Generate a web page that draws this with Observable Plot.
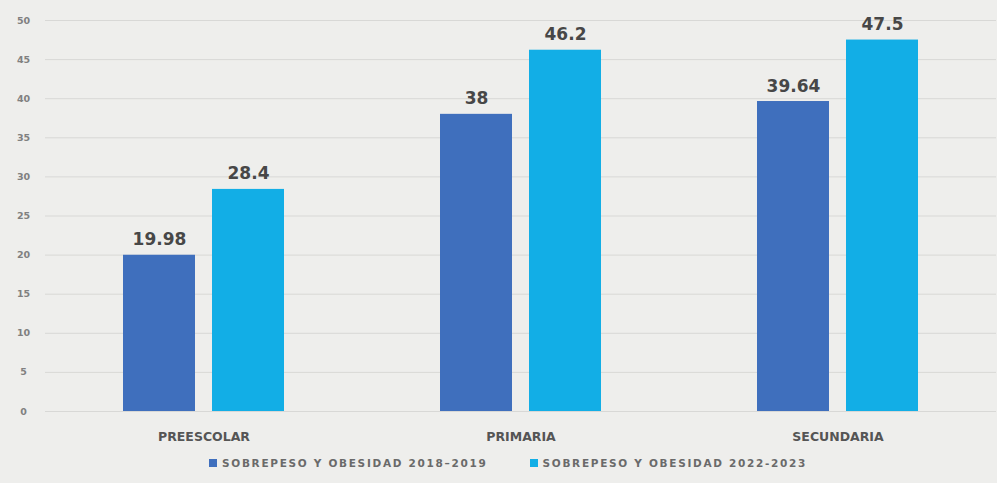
<!DOCTYPE html>
<html>
<head>
<meta charset="utf-8">
<script src="https://cdn.jsdelivr.net/npm/d3@7"></script>
<script src="https://cdn.jsdelivr.net/npm/@observablehq/plot@0.6"></script>
<style>
  html, body { margin: 0; padding: 0; background: #eeeeec; }
  body { width: 997px; height: 483px; overflow: hidden; font-family: "DejaVu Sans", sans-serif; }
  #legend { display: flex; justify-content: flex-start; align-items: center; height: 26px; margin-top: 0; padding-left: 209px; }
  .item { display: flex; align-items: center; font-size: 10.5px; font-weight: bold; color: #6a6a6a; letter-spacing: 1.7px; }
  .sw { width: 8px; height: 8px; margin-right: 5px; }
  .item + .item { margin-left: 42px; }
</style>
</head>
<body>
<div id="chart"></div>
<div id="legend"></div>
<script>
const categories = ["PREESCOLAR", "PRIMARIA", "SECUNDARIA"];
const seriesNames = ["SOBREPESO Y OBESIDAD 2018–2019", "SOBREPESO Y OBESIDAD 2022-2023"];
const values2018 = [19.98, 38, 39.64];
const values2022 = [28.4, 46.2, 47.5];
const yTicks = [0, 5, 10, 15, 20, 25, 30, 35, 40, 45, 50];
const colors = ["#3f6fbd", "#12aee6"];

const data = [];
categories.forEach((c, i) => {
  data.push({cat: c, series: seriesNames[0], value: values2018[i]});
  data.push({cat: c, series: seriesNames[1], value: values2022[i]});
});

const chart = Plot.plot({
  width: 997,
  height: 450,
  marginLeft: 44,
  marginRight: 0,
  marginTop: 20,
  marginBottom: 39,
  style: {background: "transparent", fontFamily: "'DejaVu Sans', sans-serif"},
  fx: {domain: categories, padding: 0, label: null},
  x: {domain: seriesNames, paddingInner: 0.189, paddingOuter: 0.86, axis: null},
  y: {domain: [0, 50], label: null},
  color: {domain: seriesNames, range: colors},
  marks: [
    Plot.gridY(yTicks, {stroke: "#d8d8d6", strokeOpacity: 1, strokeWidth: 1}),
    Plot.axisY(yTicks, {tickSize: 0, tickPadding: 22, textAnchor: "middle", fontSize: 9.5, fontWeight: "bold", fill: "#808080", label: null}),
    Plot.axisFx({anchor: "bottom", tickSize: 0, tickPadding: 21, fontSize: 12.5, fontWeight: "bold", fill: "#555", label: null, style: {letterSpacing: "1.8px"}}),
    Plot.barY(data, {fx: "cat", x: "series", y: "value", fill: "series"}),
    Plot.text(data, {fx: "cat", x: "series", y: "value", text: d => String(d.value), lineAnchor: "bottom", dy: -10, fontSize: 17, fontWeight: "bold", fill: "#474747"})
  ]
});
document.getElementById("chart").appendChild(chart);

const legend = document.getElementById("legend");
seriesNames.forEach((s, i) => {
  const item = document.createElement("div");
  item.className = "item";
  const sw = document.createElement("span");
  sw.className = "sw";
  sw.style.background = colors[i];
  item.appendChild(sw);
  const t = document.createElement("span");
  t.textContent = s;
  item.appendChild(t);
  legend.appendChild(item);
});
</script>
</body>
</html>
